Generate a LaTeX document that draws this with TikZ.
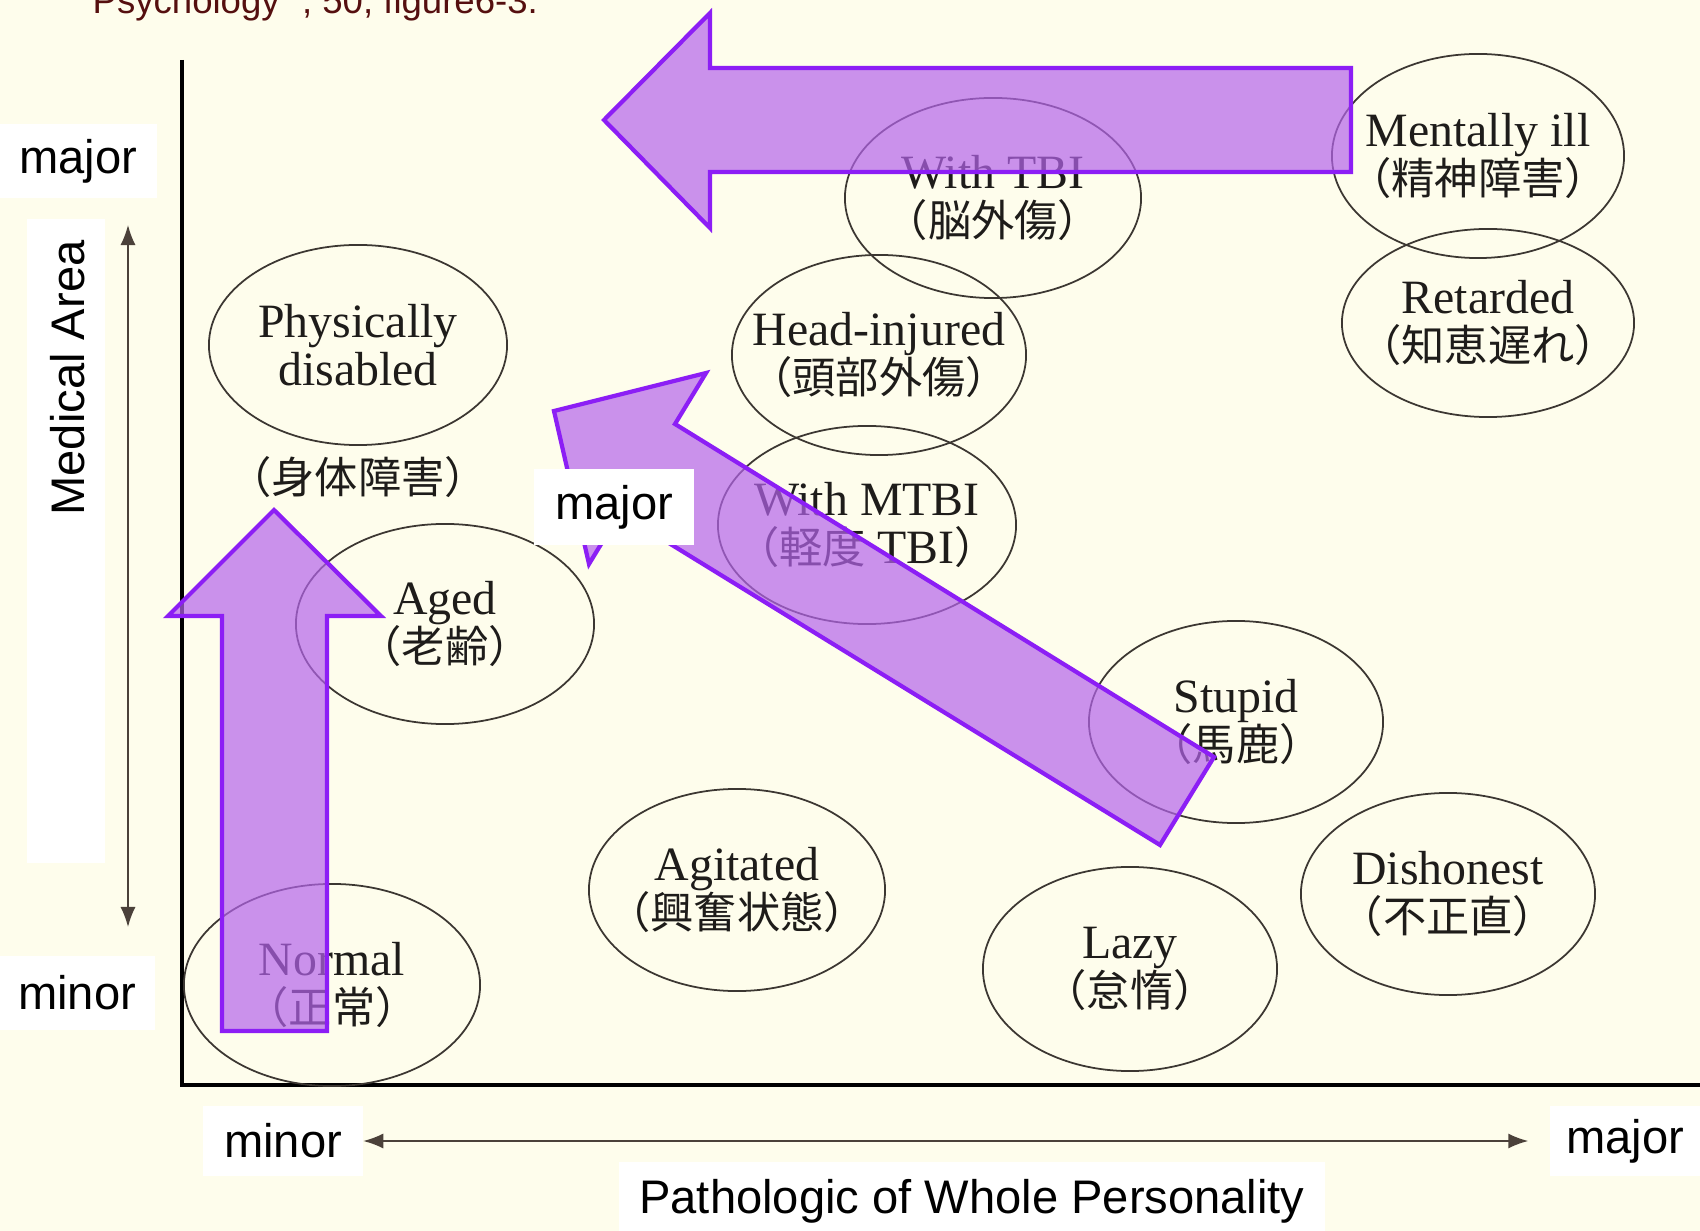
\documentclass[tikz,border=0pt]{standalone}
\usepackage{xcolor}
\usepackage{fontspec}
\setmainfont{Liberation Serif}
\newfontfamily\labfont{Liberation Sans}
\newfontfamily\jpfont{Noto Sans CJK JP}
\usetikzlibrary{shapes.geometric,arrows.meta}

\definecolor{cream}{RGB}{254,253,236}
\definecolor{inkline}{RGB}{60,55,50}
\definecolor{inktext}{RGB}{30,28,26}
\definecolor{axisgrey}{RGB}{75,65,58}
\definecolor{arrowfill}{RGB}{180,100,235}
\definecolor{arrowline}{RGB}{140,30,245}
\definecolor{maroon}{RGB}{85,15,15}

\newcommand{\jtext}[1]{{\jpfont\fontsize{12.3}{12}\selectfont #1}}

\begin{document}
\begin{tikzpicture}[x=0.01cm,y=-0.01cm,
  oval/.style={shape=ellipse,draw=inkline,line width=0.5pt,inner sep=0pt,minimum width=2.96cm,minimum height=2cm},
  tag/.style={align=center,text=inktext,inner sep=0pt,font=\fontsize{13.6}{13.6}\selectfont},
  whitebox/.style={fill=white,inner sep=0pt,font=\labfont\fontsize{13.4}{16}\selectfont},
  bigarrow/.style={fill=arrowfill,fill opacity=0.7,draw=arrowline,line width=1.2pt,line join=miter},
  axisarrow/.style={draw=axisgrey,line width=0.45pt,{Latex[length=2mm,width=1.5mm]}-{Latex[length=2mm,width=1.5mm]}},
  axisline/.style={draw=black,line width=1pt}]

\useasboundingbox (0,0) rectangle (1700,1231);
\fill[cream] (0,0) rectangle (1700,1231);

% axes
\coordinate (ytop) at (182,60);
\coordinate (origin) at (182,1085);
\coordinate (xend) at (1700,1085);
\draw[axisline] (ytop) -- (origin) -- (xend);

% categories
\node[oval,minimum width=2.98cm] (phys) at (358,345) {};
\node[tag] (physT) at (phys) {Physically\\disabled};
\node[tag] (physJ) at (358,477) {\jtext{（身体障害）}};

\node[oval,minimum width=2.98cm] (aged) at (445,624) {};
\node[tag] (agedT) at (aged) {Aged\\\jtext{（老齢）}};

\node[oval,minimum height=2.02cm] (normal) at (332,985) {};
\node[tag] (normalT) at (normal) {Normal\\\jtext{（正常）}};

\node[oval] (tbi) at (993,198) {};
\node[tag] (tbiT) at (tbi) {With TBI\\\jtext{（脳外傷）}};

\node[oval,minimum width=2.94cm] (head) at (879,355) {};
\node[tag] (headT) at (head) {Head-injured\\\jtext{（頭部外傷）}};

\node[oval,minimum width=2.98cm,minimum height=1.98cm] (mtbi) at (867,525) {};
\node[tag] (mtbiT) at (mtbi) {With MTBI\\\jtext{（軽度} TBI\jtext{）}};

\node[oval,minimum width=2.92cm,minimum height=2.04cm] (mental) at (1478,156) {};
\node[tag] (mentalT) at (mental) {Mentally ill\\\jtext{（精神障害）}};

\node[oval,minimum width=2.92cm,minimum height=1.88cm] (retard) at (1488,323) {};
\node[tag] (retardT) at (retard) {Retarded\\\jtext{（知恵遅れ）}};

\node[oval,minimum width=2.94cm,minimum height=2.02cm] (stupid) at (1236,722) {};
\node[tag] (stupidT) at (stupid) {Stupid\\\jtext{（馬鹿）}};

\node[oval,minimum height=2.02cm] (agit) at (737,890) {};
\node[tag] (agitT) at (agit) {Agitated\\\jtext{（興奮状態）}};

\node[oval,minimum width=2.94cm,minimum height=2.04cm] (lazy) at (1130,969) {};
\node[tag] (lazyT) at (lazy) {Lazy\\\jtext{（怠惰）}};

\node[oval,minimum width=2.94cm,minimum height=2.02cm] (dishon) at (1448,894) {};
\node[tag] (dishonT) at (dishon) {Dishonest\\\jtext{（不正直）}};

% purple arrows
\draw[bigarrow] (1351,68) -- (710,68) -- (710,13) -- (604,120) -- (710,228) -- (710,172) -- (1351,172) -- cycle;
\draw[bigarrow] (222,1031) -- (222,616) -- (168,616) -- (274,510) -- (381,616) -- (327,616) -- (327,1031) -- cycle;
\draw[bigarrow] (1160,845) -- (620,513) -- (589,564) -- (554,411) -- (706,373) -- (675,424) -- (1214,757) -- cycle;

% labels
\node[whitebox,minimum width=1.57cm,minimum height=0.73cm] (ymajor) at (78,161) {major};
\node[whitebox,minimum width=1.55cm,minimum height=0.74cm] (yminor) at (77,993) {minor};
\node[whitebox,minimum width=0.78cm,minimum height=6.44cm] (ybox) at (66,541) {};
\node[font=\labfont\fontsize{13.4}{16}\selectfont,rotate=90,inner sep=0pt] (ytitle) at (68,378) {Medical Area};
\node[whitebox,minimum width=1.59cm,minimum height=0.70cm] (xminor) at (283,1141) {minor};
\node[whitebox,minimum width=1.50cm,minimum height=0.70cm] (xmajor) at (1625,1141) {major};
\node[whitebox,minimum width=7.05cm,minimum height=0.78cm] (xtitle) at (972,1201) {Pathologic of Whole Personality};
\node[whitebox,minimum width=1.59cm,minimum height=0.76cm] (dmajor) at (614,507) {major};

\coordinate (yup) at (128,225);
\coordinate (ydown) at (128,927);
\draw[axisarrow] (yup) -- (ydown);
\draw[axisarrow] (xminor.east) -- ([xshift=-0.21cm]xmajor.west);

\node[anchor=base west,inner sep=0pt,text=maroon,font=\labfont\fontsize{10.4}{12}\selectfont] (source) at (92,14) {Psychology” , 50, figure6-3.};
\end{tikzpicture}
\end{document}
